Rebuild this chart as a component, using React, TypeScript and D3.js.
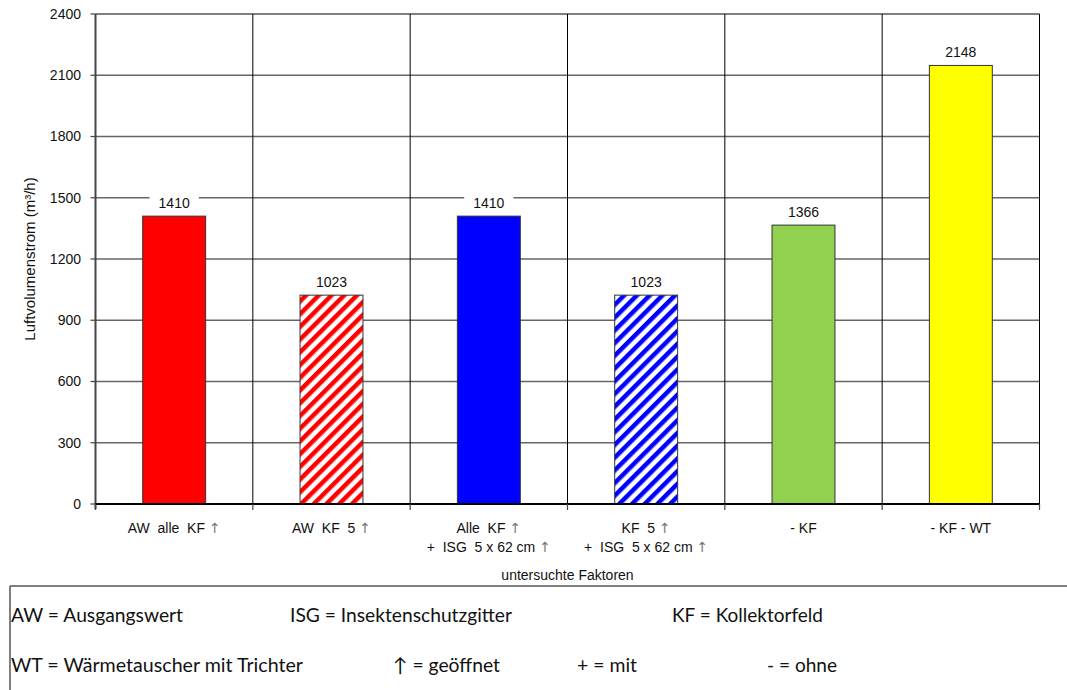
import React from "react";
import * as d3 from "d3";

// Air volume flow per investigated configuration
const categories: string[][] = [
  ["AW  alle  KF ↑"],
  ["AW  KF  5 ↑"],
  ["Alle  KF ↑", "+  ISG  5 x 62 cm ↑"],
  ["KF  5 ↑", "+  ISG  5 x 62 cm ↑"],
  ["- KF"],
  ["- KF - WT"],
];
const values: number[] = [1410, 1023, 1410, 1023, 1366, 2148];
const yTicks: number[] = [0, 300, 600, 900, 1200, 1500, 1800, 2100, 2400];

const barFills: string[] = [
  "#FF0000",
  "url(#hatchRed)",
  "#0000FF",
  "url(#hatchBlue)",
  "#92D050",
  "#FFFF00",
];

const legendRows: { text: string; x: number; w: number }[][] = [
  [
    { text: "AW = Ausgangswert", x: 11, w: 172 },
    { text: "ISG = Insektenschutzgitter", x: 290, w: 222 },
    { text: "KF = Kollektorfeld", x: 672, w: 151 },
  ],
  [
    { text: "WT = Wärmetauscher mit Trichter", x: 11, w: 292 },
    { text: "↑ = geöffnet", x: 393, w: 107 },
    { text: "+ = mit", x: 577, w: 60 },
    { text: "- = ohne", x: 767, w: 70 },
  ],
];

const W = 1067;
const H = 690;
const plot = { left: 95.5, right: 1039.5, top: 14, bottom: 504 };
const FONT = "'Liberation Sans', Arial, sans-serif";
const LEGEND_FONT = "Lato, 'Open Sans', sans-serif";

function renderArrowText(s: string) {
  // arrows are drawn a little lighter, like the fallback glyph in the source document
  const parts = s.split("↑");
  return parts.map((p, i) => (
    <React.Fragment key={i}>
      {p}
      {i < parts.length - 1 && (
        <tspan fill="#777" fontFamily="'DejaVu Sans', sans-serif" fontSize={14}>
          ↑
        </tspan>
      )}
    </React.Fragment>
  ));
}

export default function App() {
  const ids = categories.map((_, i) => String(i));
  const x = d3
    .scaleBand<string>()
    .domain(ids)
    .range([plot.left, plot.right])
    .paddingInner(0)
    .paddingOuter(0);
  const y = d3.scaleLinear().domain([0, 2400]).range([plot.bottom, plot.top]);
  const bw = x.bandwidth() * 0.4;
  const bounds = d3.range(ids.length + 1).map((i) => plot.left + i * x.bandwidth());

  return (
    <svg
      width={W}
      height={H}
      style={{ position: "absolute", left: 0, top: 0, background: "#fff" }}
      fontFamily={FONT}
    >
      <defs>
        <pattern id="hatchRed" patternUnits="userSpaceOnUse" width={9} height={9} patternTransform="rotate(45)">
          <rect width={9} height={9} fill="#fff" />
          <rect width={4.5} height={9} fill="#FF0000" />
        </pattern>
        <pattern id="hatchBlue" patternUnits="userSpaceOnUse" width={9} height={9} patternTransform="rotate(45)">
          <rect width={9} height={9} fill="#fff" />
          <rect width={4.5} height={9} fill="#0000FF" />
        </pattern>
      </defs>

      {/* horizontal gridlines */}
      {yTicks.map((t) => (
        <line
          key={"g" + t}
          x1={plot.left}
          x2={plot.right}
          y1={y(t)}
          y2={y(t)}
          stroke={t === 2400 ? "#000" : "#666"}
          strokeWidth={t === 2400 ? 1.2 : 1.3}
        />
      ))}

      {/* vertical category separators */}
      {bounds.slice(1).map((bx, i) => (
        <line key={"v" + i} x1={bx} x2={bx} y1={plot.top} y2={plot.bottom} stroke="#000" strokeWidth={1} />
      ))}

      {/* y axis */}
      <line x1={plot.left} x2={plot.left} y1={plot.top} y2={plot.bottom + 5} stroke="#444" strokeWidth={2} />
      {yTicks.map((t) => (
        <g key={"t" + t}>
          <line x1={plot.left - 5} x2={plot.left} y1={y(t)} y2={y(t)} stroke="#444" strokeWidth={1.2} />
          <text x={81} y={y(t)} dy="0.35em" textAnchor="end" fontSize={14} fill="#111">
            {t}
          </text>
        </g>
      ))}
      <text
        transform={`translate(35, ${(plot.top + plot.bottom) / 2}) rotate(-90)`}
        textAnchor="middle"
        fontSize={15}
        fill="#111"
      >
        Luftvolumenstrom (m³/h)
      </text>

      {/* bars with value labels */}
      {values.map((v, i) => {
        const cx = (x(String(i)) as number) + x.bandwidth() / 2;
        const label = String(v);
        const lw = label.length * 7.8 + 18;
        return (
          <g key={"b" + i}>
            <rect
              x={cx - bw / 2}
              y={y(v)}
              width={bw}
              height={y(0) - y(v)}
              fill={barFills[i]}
              stroke="#333"
              strokeWidth={1}
            />
            <rect x={cx - lw / 2} y={y(v) - 22} width={lw} height={17} fill="#fff" />
            <text x={cx} y={y(v) - 8} textAnchor="middle" fontSize={14} fill="#111">
              {label}
            </text>
          </g>
        );
      })}

      {/* x axis */}
      <line x1={plot.left} x2={plot.right} y1={plot.bottom} y2={plot.bottom} stroke="#000" strokeWidth={2} />
      {bounds.map((bx, i) => (
        <line key={"xt" + i} x1={bx} x2={bx} y1={plot.bottom} y2={plot.bottom + 6} stroke="#444" strokeWidth={1.2} />
      ))}
      {categories.map((lines, i) => {
        const cx = (x(String(i)) as number) + x.bandwidth() / 2;
        return (
          <text key={"c" + i} textAnchor="middle" fontSize={14} fill="#111" style={{ whiteSpace: "pre" }}>
            {lines.map((ln, j) => (
              <tspan key={j} x={cx} y={533 + j * 18.7}>
                {renderArrowText(ln)}
              </tspan>
            ))}
          </text>
        );
      })}
      <text x={(plot.left + plot.right) / 2} y={580} textAnchor="middle" fontSize={14} fill="#111">
        untersuchte Faktoren
      </text>

      {/* abbreviation box */}
      <line x1={10} x2={W} y1={586} y2={586} stroke="#555" strokeWidth={1.5} />
      <line x1={10} x2={10} y1={586} y2={H} stroke="#555" strokeWidth={1.5} />
      {legendRows.map((row, r) =>
        row.map((item, k) => (
          <text
            key={`l${r}-${k}`}
            x={item.x}
            y={621.5 + r * 50}
            fontSize={19.5}
            fontFamily={LEGEND_FONT}
            fill="#111"
            textLength={item.w}
            lengthAdjust="spacingAndGlyphs"
          >
            {item.text}
          </text>
        ))
      )}
    </svg>
  );
}
